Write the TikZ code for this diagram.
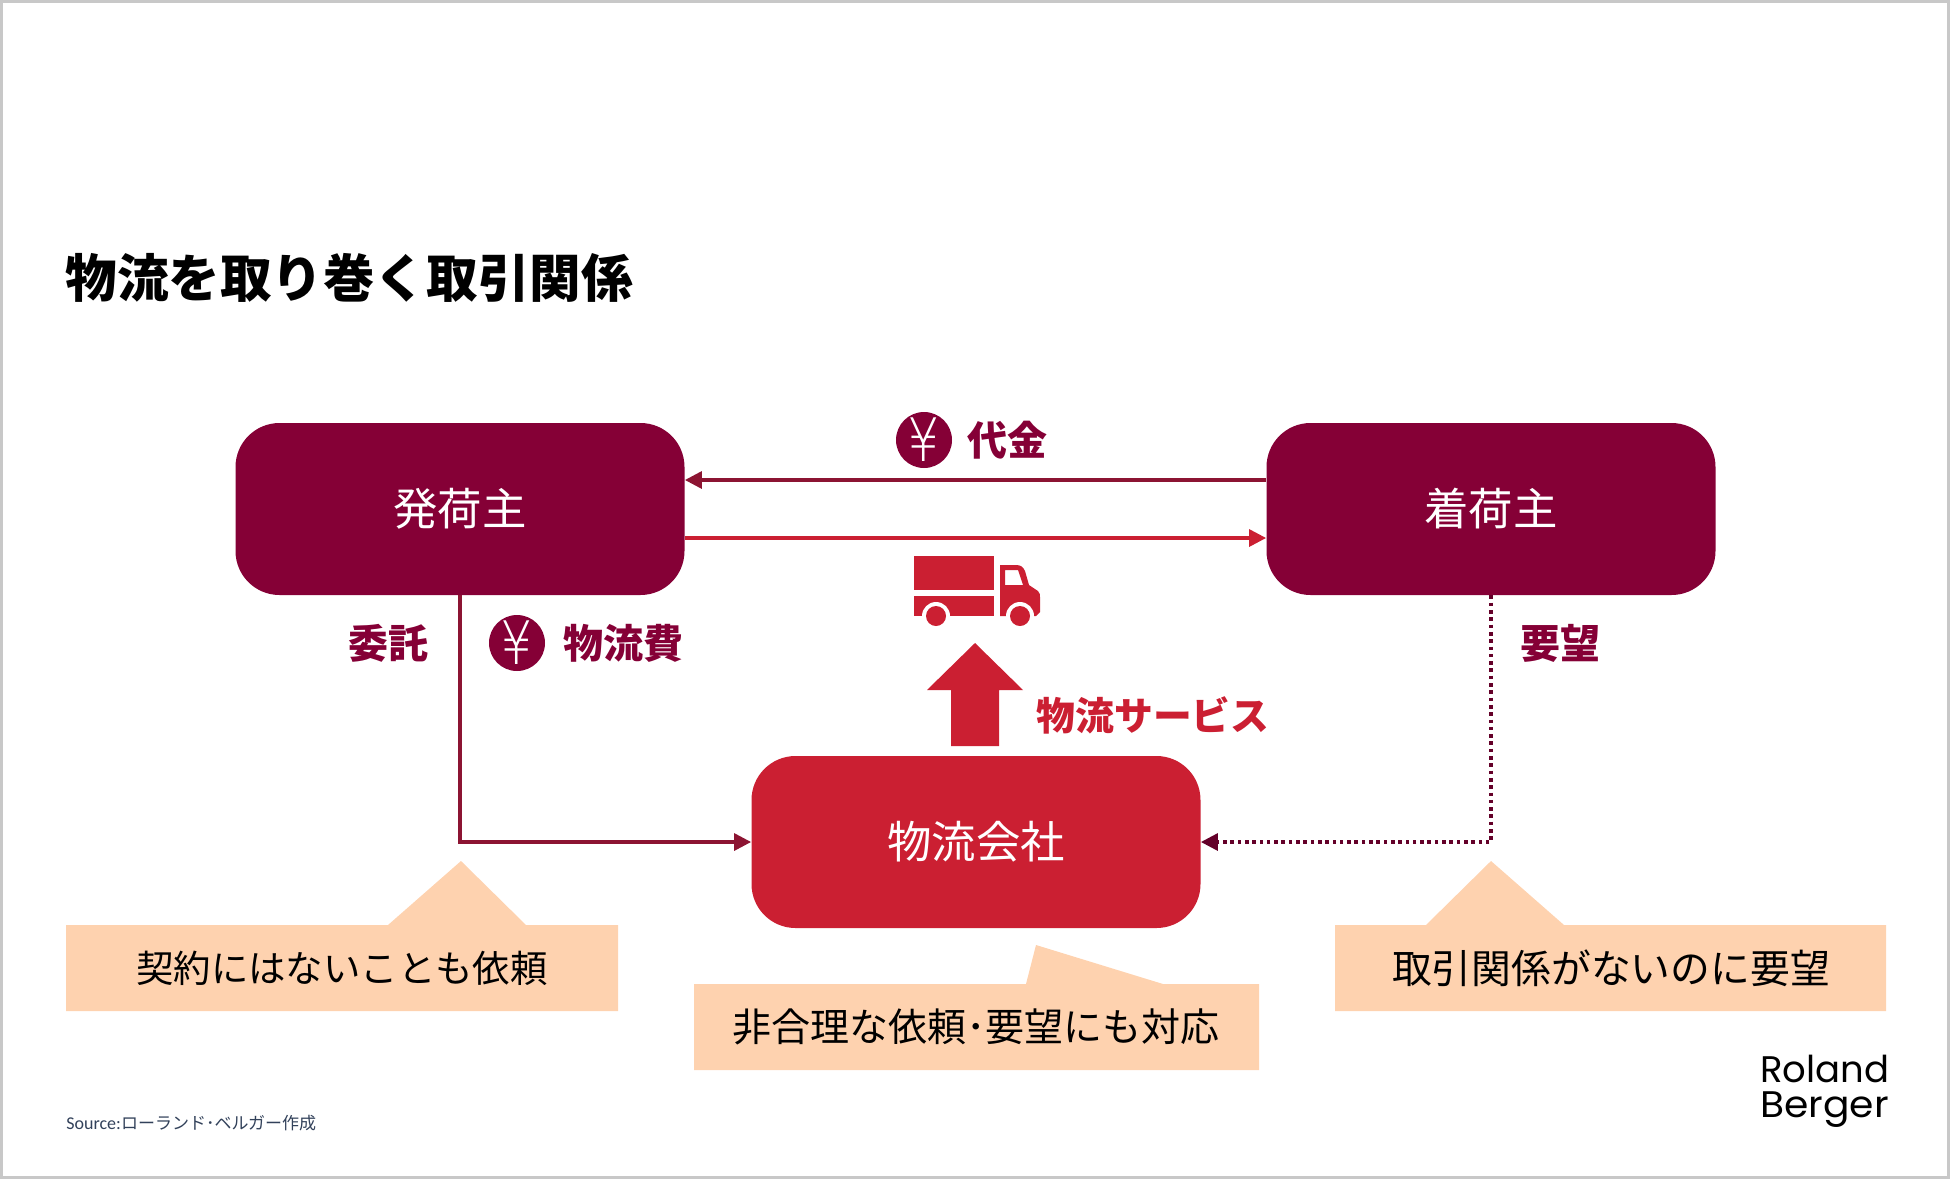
\documentclass[tikz,border=0pt]{standalone}
\usepackage{fontspec}
\setmainfont{Noto Sans CJK JP}
\newfontfamily\logofont{Poppins}
\newfontfamily\srcfont{Carlito}
\newfontfamily\yenfont[FakeStretch=0.85]{DejaVu Sans ExtraLight}
\usetikzlibrary{arrows.meta}
\usetikzlibrary{math}
\definecolor{rbwine}{RGB}{133,0,54}
\definecolor{rbred}{RGB}{203,31,50}
\definecolor{rbline}{RGB}{140,20,50}
\definecolor{rbpeach}{RGB}{254,210,175}
\definecolor{rbframe}{RGB}{200,200,200}
\definecolor{rbsrc}{RGB}{50,65,90}

\tikzset{
 party/.style={rounded corners=22pt, minimum width=224.5pt, minimum height=86pt, inner sep=0pt, text=white, font=\fontsize{22.2}{22.2}\selectfont},
 flow/.style={line width=1.6pt, -{Triangle[length=8.5pt,width=8.5pt]}},
 yen/.style={circle, fill=rbwine, text=white, inner sep=0pt, minimum size=28pt, font=\yenfont\fontsize{30}{30}\selectfont},
 tag/.style={text=rbwine, font=\fontsize{20}{20}\selectfont\bfseries, inner sep=0pt},
 note/.style={fill=rbpeach},
 notetext/.style={font=\fontsize{18.7}{18.7}\selectfont, inner sep=0pt},
}

\begin{document}
\begin{tikzpicture}[x=0.5pt,y=-0.5pt]

\tikzmath{
\W = 1950;
\H = 1179;
\rw = 14;%wheel ring
\rt = 10;%wheel
}

\useasboundingbox (0,0) rectangle (\W,\H);
\draw[rbframe, line width=1.5pt] (1.5,1.5) rectangle (\W-1.5,\H-1.5);

\node[anchor=west, inner sep=0pt, font=\fontsize{25.8}{25.8}\selectfont\bfseries] (title) at (65,278) {物流を取り巻く取引関係};

%notes
\fill[note] (66,925) -- (388,925) -- (461,861) -- (526,925) -- (618,925) -- (618,1011) -- (66,1011) -- cycle;
\fill[note] (694,984) -- (1026,984) -- (1036,945) -- (1163,984) -- (1259,984) -- (1259,1070) -- (694,1070) -- cycle;
\fill[note] (1335,925) -- (1426,925) -- (1491,861) -- (1564,925) -- (1886,925) -- (1886,1011) -- (1335,1011) -- cycle;

\node[notetext] (noteL) at (342,968) {契約にはないことも依頼};
\node[notetext, font=\fontsize{19.5}{19.5}\selectfont] (noteC) at (976,1027) {非合理な依頼･要望にも対応};
\node[notetext, font=\fontsize{19.9}{19.9}\selectfont] (noteR) at (1611,968) {取引関係がないのに要望};

%boxes
\node[party, fill=rbwine] (shipper) at (460,509) {発荷主};
\node[party, fill=rbwine] (receiver) at (1491,509) {着荷主};
\node[party, fill=rbred] (carrier) at (976,842) {物流会社};

%connectors
\draw[flow, rbline] ([yshift=14.5pt]receiver.west) -- ([yshift=14.5pt]shipper.east);
\draw[flow, rbred] ([yshift=-14.5pt]shipper.east) -- ([yshift=-14.5pt]receiver.west);
\draw[flow, rbline] (shipper.south) |- (carrier.west);
\draw[flow, rbwine!75!black, dash pattern=on 1.8pt off 1.85pt] (receiver.south) |- (carrier.east);

%service arrow
\fill[rbred] (951,746) -- (951,690) -- (927,690) -- (975,643) -- (1023,690) -- (999,690) -- (999,746) -- cycle;

%truck
\fill[rbred] (914,556) rectangle (994,590);
\fill[rbred] (914,596) rectangle (994,616);
\fill[rbred, even odd rule] (1000,616) -- (1000,565) -- (1016,565) .. controls (1021,565) and (1023,567) .. (1025,571) -- (1029,585) -- (1038,591) .. controls (1040,593) and (1040,595) .. (1040,597) -- (1040,612) -- (1036,616) -- cycle
 (1005,570) -- (1018,570) -- (1023,585) -- (1005,585) -- cycle;
\foreach \xw in {936,1020}{
 \fill[white] (\xw,616) circle (\rw*0.5pt);
 \fill[white] (\xw-14,616) rectangle (\xw+14,630);
 \fill[rbred] (\xw,616) circle (\rt*0.5pt);
}

%money
\node[yen] (yenA) at (924,440) {¥};
\node[yen] (yenB) at (517,643) {¥};

\node[tag] (pay) at (1007,440) {代金};
\node[tag] (fee) at (623,643) {物流費};
\node[tag] (order) at (388,643) {委託};
\node[tag] (ask) at (1560,643) {要望};
\node[tag, text=rbred, font=\fontsize{19.4}{19.4}\selectfont\bfseries] (service) at (1153,715) {物流サービス};

\node[anchor=west, inner sep=0pt, text=rbsrc, font=\fontsize{8.5}{8.5}\selectfont] (source) at (66,1123) {{\srcfont\fontsize{9}{9}\selectfont Source:}ローランド･ベルガー作成};
\node[anchor=north west, inner sep=0pt, align=left, font=\fontsize{18.5}{17.5}\selectfont\logofont] (logo) at (1760,1055) {Roland\\\addfontfeature{FakeStretch=1.06}Berger};

\end{tikzpicture}
\end{document}
